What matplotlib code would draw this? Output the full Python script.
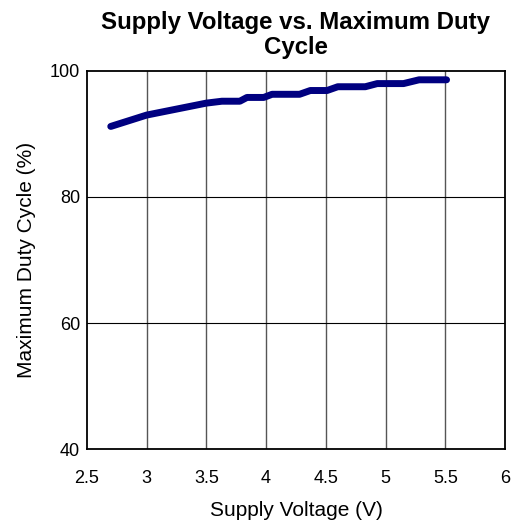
import matplotlib
matplotlib.use("Agg")
import matplotlib.pyplot as plt

voltage = [2.70, 3.00, 3.50, 3.63, 3.78, 3.84, 3.98, 4.05, 4.28, 4.37, 4.51, 4.60, 4.83, 4.93, 5.15, 5.28, 5.51]
duty = [91.2, 93.0, 94.9, 95.2, 95.2, 95.8, 95.8, 96.3, 96.3, 96.9, 96.9, 97.5, 97.5, 98.0, 98.0, 98.6, 98.6]
x_ticks = [2.5, 3, 3.5, 4, 4.5, 5, 5.5, 6]
x_labels = ["2.5", "3", "3.5", "4", "4.5", "5", "5.5", "6"]
y_ticks = [40, 60, 80, 100]

plt.rcParams['font.family'] = ['Liberation Sans', 'DejaVu Sans']

fig = plt.figure(figsize=(5.17, 5.2), dpi=100)
ax = fig.add_axes([0.168, 0.1365, 0.809, 0.727])

for xv in x_ticks[1:-1]:
    ax.axvline(xv, color='#555555', lw=1.0, zorder=1)
for yv in y_ticks[1:-1]:
    ax.axhline(yv, color='black', lw=0.8, zorder=1)

ax.plot(voltage, duty, color='#000080', lw=5, solid_capstyle='round', solid_joinstyle='round', zorder=3)

ax.set_xlim(2.5, 6)
ax.set_ylim(40, 100)
ax.set_xticks(x_ticks)
ax.set_xticklabels(x_labels)
ax.set_yticks(y_ticks)
ax.tick_params(length=0, labelsize=13)
ax.tick_params(axis='y', pad=5)
ax.tick_params(axis='x', pad=15)
for s in ax.spines.values():
    s.set_linewidth(1.3)
    s.set_color('black')

ax.set_xlabel("Supply Voltage (V)", fontsize=15, labelpad=10)
ax.set_ylabel("Maximum Duty Cycle (%)", fontsize=15, labelpad=10)
ax.set_title("Supply Voltage vs. Maximum Duty\nCycle", fontsize=17.3, fontweight='bold', pad=12, linespacing=1.15)

fig.savefig("out.png", dpi=100)
